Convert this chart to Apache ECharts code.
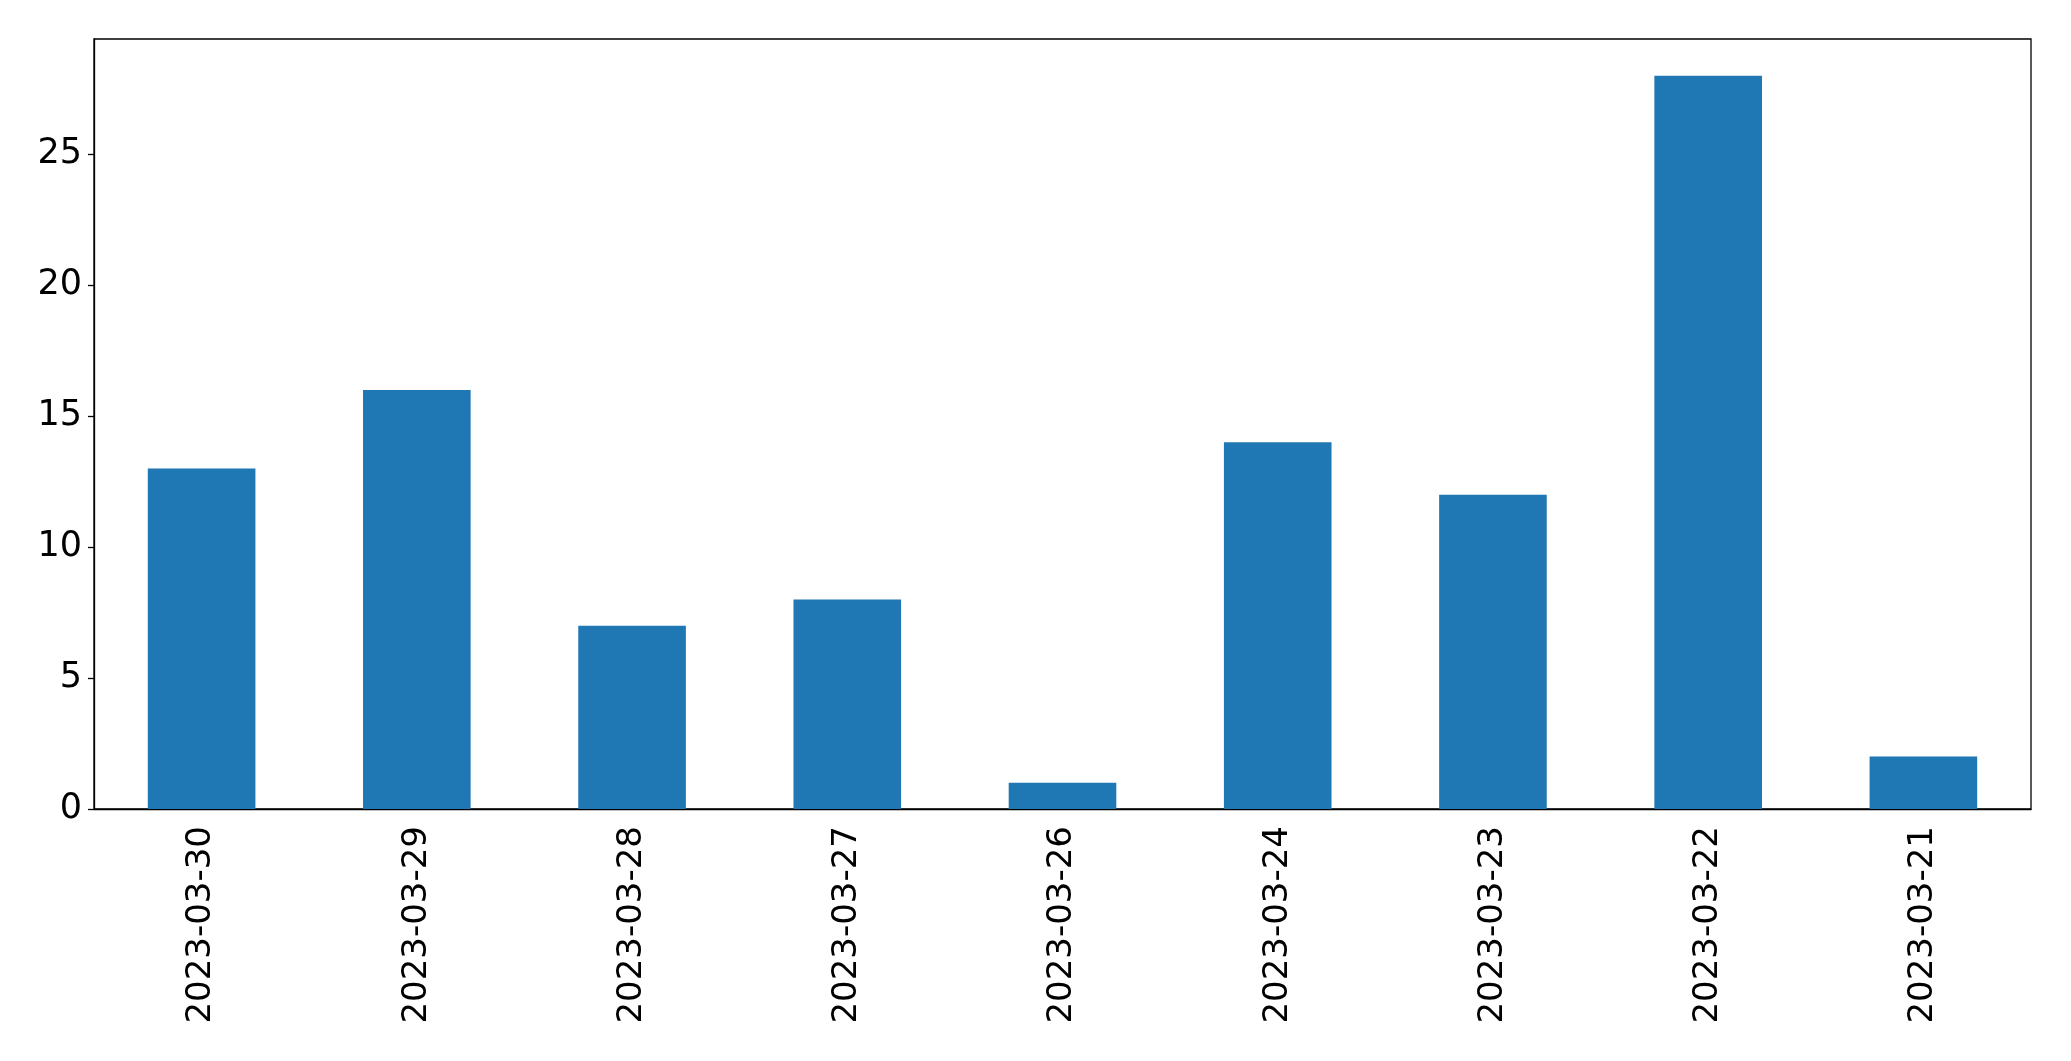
<!DOCTYPE html>
<html><head><meta charset="utf-8">
<script src="https://cdn.jsdelivr.net/npm/echarts@6/dist/echarts.min.js"></script>
<style>html,body{margin:0;padding:0;background:#fff}#c{width:2071px;height:1061px}</style>
</head><body><div id="c"></div>
<script>
const categories = ["2023-03-30","2023-03-29","2023-03-28","2023-03-27","2023-03-26","2023-03-24","2023-03-23","2023-03-22","2023-03-21"];
const values = [13, 16, 7, 8, 1, 14, 12, 28, 2];
const yTicks = [0, 5, 10, 15, 20, 25];

const chart = echarts.init(document.getElementById('c'), null, {renderer: 'canvas'});
const font = 'DejaVu Sans';
chart.setOption({
  animation: false,
  backgroundColor: '#ffffff',
  grid: {left: 94, right: 40, top: 39, bottom: 252, show: true, borderColor: '#000', borderWidth: 1.3, backgroundColor: 'transparent'},
  xAxis: {
    type: 'category', data: categories, boundaryGap: true,
    axisLine: {lineStyle: {color: '#000', width: 1.3}},
    axisTick: {alignWithLabel: true, length: 6, lineStyle: {color: '#000', width: 1.3}},
    axisLabel: {rotate: 90, color: '#000', fontFamily: font, fontSize: 34, margin: 17, interval: 0}
  },
  yAxis: {
    type: 'value', min: 0, max: 29.4, interval: 5,
    axisLine: {show: true, lineStyle: {color: '#000', width: 1.3}},
    axisTick: {show: true, length: 6, customValues: yTicks, lineStyle: {color: '#000', width: 1.3}},
    splitLine: {show: false},
    axisLabel: {color: '#000', fontFamily: font, fontSize: 35, margin: 12, customValues: yTicks}
  },
  series: [{type: 'bar', data: values, barWidth: '50%', itemStyle: {color: '#1f77b4'}}]
});
</script></body></html>
